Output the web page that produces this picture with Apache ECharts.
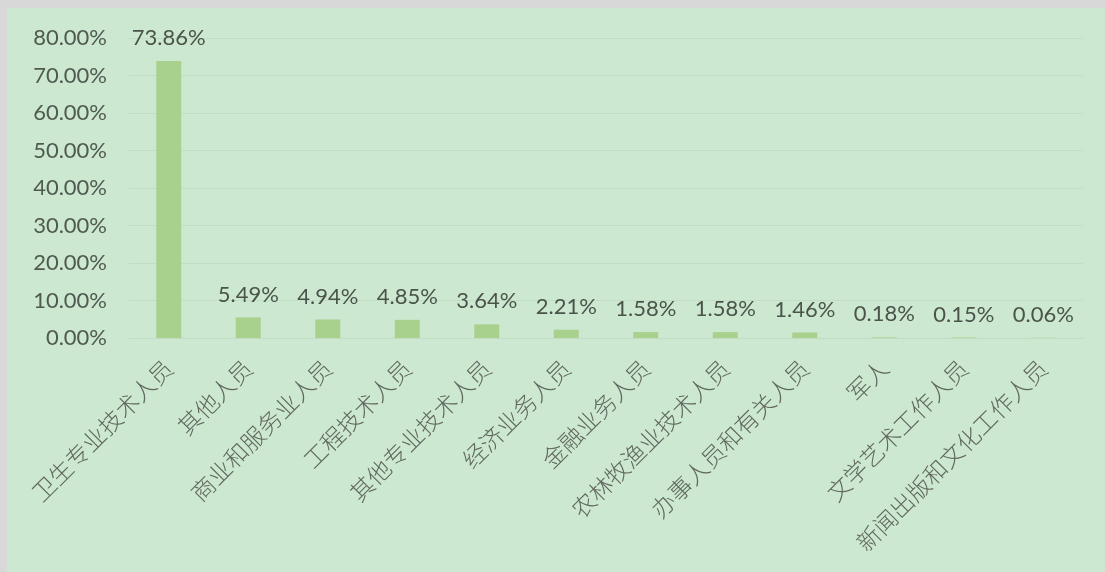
<!DOCTYPE html>
<html>
<head>
<meta charset="utf-8">
<script src="https://cdn.jsdelivr.net/npm/echarts@6/dist/echarts.min.js"></script>
<style>
html,body{margin:0;padding:0;background:#d8d8d8;width:1105px;height:572px;overflow:hidden;}
#chart{position:absolute;left:7px;top:8px;width:1098px;height:564px;background:#cde8d0;}
</style>
</head>
<body>
<div id="chart"></div>
<script>
const categories = ['卫生专业技术人员','其他人员','商业和服务业人员','工程技术人员','其他专业技术人员','经济业务人员','金融业务人员','农林牧渔业技术人员','办事人员和有关人员','军人','文学艺术工作人员','新闻出版和文化工作人员'];
const values = [73.86, 5.49, 4.94, 4.85, 3.64, 2.21, 1.58, 1.58, 1.46, 0.18, 0.15, 0.06];
const yTicks = [0, 10, 20, 30, 40, 50, 60, 70, 80];

const chart = echarts.init(document.getElementById('chart'));
chart.setOption({
  animation: false,
  grid: {left: 122, right: 22, top: 30, bottom: 234, containLabel: false},
  xAxis: {
    type: 'category',
    data: categories,
    axisLine: {show: true, lineStyle: {color: '#c2dcc4', width: 1}},
    axisTick: {show: false},
    axisLabel: {
      interval: 0, rotate: 45, margin: 26,
      fontFamily: '"Noto Sans CJK SC", sans-serif', fontSize: 23.5, fontWeight: 300,
      color: '#606860'
    }
  },
  yAxis: {
    type: 'value',
    min: yTicks[0], max: yTicks[yTicks.length - 1], interval: 10,
    axisLine: {show: false},
    axisTick: {show: false},
    splitLine: {show: true, lineStyle: {color: '#c3ddc5', width: 1}},
    axisLabel: {
      margin: 22,
      fontFamily: 'Lato, "Open Sans", sans-serif', fontSize: 22,
      color: '#4f5a50',
      formatter: v => v.toFixed(2) + '%'
    }
  },
  series: [{
    type: 'bar',
    data: values,
    barWidth: 25,
    itemStyle: {color: '#a9d18e'},
    label: {
      show: true, position: 'top', distance: 12,
      fontFamily: 'Lato, "Open Sans", sans-serif', fontSize: 22,
      color: '#4a544b',
      formatter: p => p.value.toFixed(2) + '%'
    }
  }]
});
</script>
</body>
</html>
